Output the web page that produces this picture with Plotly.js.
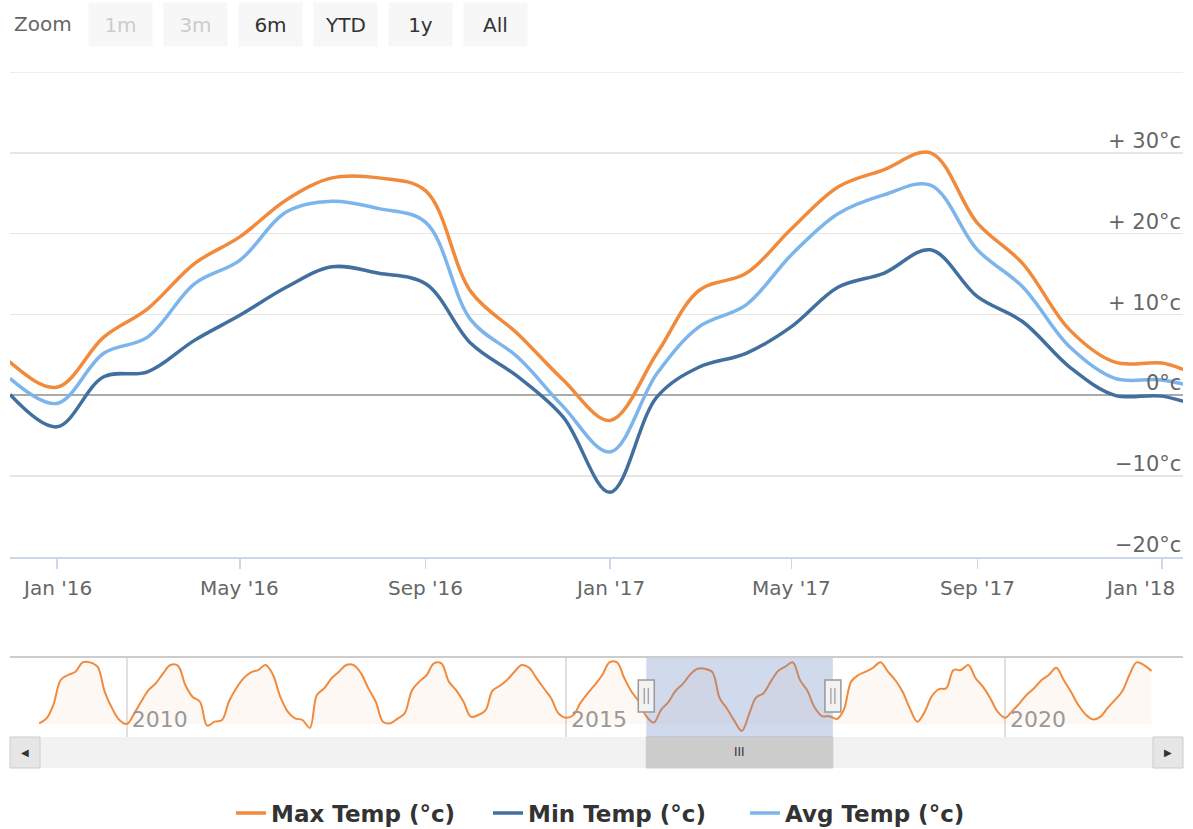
<!DOCTYPE html>
<html><head><meta charset="utf-8">
<script src="https://cdn.plot.ly/plotly-3.0.1.min.js"></script>
<style>html,body{margin:0;padding:0;background:#fff}#chart{width:1193px;height:829px}</style>
</head><body><div id="chart"></div>
<script>
// ---------------- data ----------------
const seriesStart = '2009-01';          // first month of the max-temp series (navigator)
const maxTemp = [
  0.6, 3.0, 9.4, 21.5, 23.9, 25.5, 30.0, 30.0, 27.9, 15.8, 7.8, 2.2,      // 2009
  0.3, 5.4, 11.0, 16.6, 19.9, 24.7, 28.7, 28.4, 19.1, 13.4, 11.0, -0.5,   // 2010
  1.4, 2.2, 11.0, 17.5, 22.3, 25.2, 26.3, 28.7, 23.9, 13.4, 6.2, 3.0,     // 2011
  2.2, -1.6, 14.2, 17.5, 22.3, 25.5, 28.7, 28.7, 24.7, 17.5, 11.0, 1.4,   // 2012
  0.6, 3.0, 5.4, 16.6, 20.7, 23.9, 29.5, 29.5, 20.7, 16.6, 11.0, 3.8,     // 2013
  4.6, 7.0, 16.2, 18.7, 21.5, 25.5, 28.7, 27.4, 22.3, 17.5, 12.6, 5.4,    // 2014
  3.3, 4.6, 10.2, 15.0, 19.1, 23.9, 30.0, 30.0, 22.3, 15.8, 11.0, 4.1,    // 2015
  1.0, 7.2, 10.7, 16.3, 19.6, 24.2, 26.9, 26.9, 25.3, 12.8, 7.6, 1.9,     // 2016
  -3.1, 5.2, 13.0, 15.1, 20.6, 25.8, 27.9, 30.0, 21.3, 16.3, 8.1, 4.1,    // 2017
  4.0, 2.7, 7.0, 20.7, 23.9, 25.5, 27.4, 30.0, 25.5, 21.5, 15.8, 7.8,     // 2018
  1.4, 6.2, 13.4, 17.1, 17.5, 26.3, 26.3, 28.7, 22.3, 18.3, 12.6, 6.2,    // 2019
  3.3, 6.6, 10.2, 14.5, 17.5, 21.5, 23.9, 27.4, 21.5, 15.8, 9.4, 4.9,     // 2020
  2.5, 3.8, 7.8, 11.8, 15.8, 23.9, 30.0, 28.7, 25.8                      // 2021
];
const detailStart = '2015-12';          // first month of min / avg series
const minTemp = [
  0.1,                                                                     // Dec 2015
  -3.9, 2.3, 2.9, 6.8, 9.9, 13.4, 15.9, 15.1, 13.8, 6.4, 2.3, -2.7,       // 2016
  -12.0, -0.2, 3.5, 5.2, 8.5, 13.4, 15.1, 18.0, 12.2, 9.1, 3.5, 0.0,      // 2017
  -0.1, -1.8                                                               // 2018
];
const avgTemp = [
  2.1,
  -1.0, 5.2, 7.2, 13.8, 16.7, 22.7, 24.0, 23.1, 21.4, 9.3, 4.7, -1.4,
  -7.0, 2.7, 8.5, 11.2, 17.4, 22.5, 24.8, 26.0, 18.0, 13.4, 6.0, 2.1,
  1.9, 0.6
];
const seriesNames = ['Max Temp (°c)', 'Min Temp (°c)', 'Avg Temp (°c)'];
const seriesColors = ['#f28a3c', '#41709f', '#7cb5ec'];
const zoomButtons = ['1m', '3m', '6m', 'YTD', '1y', 'All'];
const zoomEnabled = [false, false, true, true, true, true];
const yTickValues = [-20, -10, 0, 10, 20, 30];
const yTickLabels = ['\u221220°c', '\u221210°c', '0°c', '+ 10°c', '+ 20°c', '+ 30°c'];
const yTop = 40;
const xTickDates = ['2016-01-01', '2016-05-01', '2016-09-01', '2017-01-01', '2017-05-01', '2017-09-01', '2018-01-01'];
const xTickLabels = ["Jan '16", "May '16", "Sep '16", "Jan '17", "May '17", "Sep '17", "Jan '18"];
const viewRange = ['2015-12-01', '2018-01-15'];
const navRange = ['2008-09-02', '2022-01-10'];

// ---------------- helpers ----------------
function monthDates(start, n) {
  let [y, m] = start.split('-').map(Number);
  const out = [];
  for (let i = 0; i < n; i++) {
    out.push(y + '-' + String(m).padStart(2, '0') + '-01');
    m++; if (m > 12) { m = 1; y++; }
  }
  return out;
}
const maxDates = monthDates(seriesStart, maxTemp.length);
const detailDates = monthDates(detailStart, minTemp.length);

const W = 1193, H = 829, L = 10, R = 10, T = 72, B = 61;
const PW = W - L - R, PH = H - T - B;
const px = x => (x - L) / PW;
const py = y => (H - B - y) / PH;
const FONT = 'DejaVu Sans, Verdana, sans-serif';

// ---------------- traces ----------------
const traces = [
  {x: maxDates, y: maxTemp, name: seriesNames[0], type: 'scatter', mode: 'lines',
   line: {color: seriesColors[0], width: 3.5, shape: 'spline', smoothing: 1}, xaxis: 'x', yaxis: 'y'},
  {x: detailDates, y: minTemp, name: seriesNames[1], type: 'scatter', mode: 'lines',
   line: {color: seriesColors[1], width: 3.5, shape: 'spline', smoothing: 1}, xaxis: 'x', yaxis: 'y'},
  {x: detailDates, y: avgTemp, name: seriesNames[2], type: 'scatter', mode: 'lines',
   line: {color: seriesColors[2], width: 3.5, shape: 'spline', smoothing: 1}, xaxis: 'x', yaxis: 'y'},
  {x: maxDates, y: maxTemp, name: seriesNames[0], type: 'scatter', mode: 'lines', showlegend: false,
   line: {color: seriesColors[0], width: 2, shape: 'spline', smoothing: 1},
   fill: 'tozeroy', fillcolor: 'rgba(242,138,60,0.06)', xaxis: 'x2', yaxis: 'y2', hoverinfo: 'skip'}
];

// ---------------- annotations ----------------
const annotations = [];
yTickValues.forEach((v, i) => {
  annotations.push({xref: 'paper', x: 1, xanchor: 'right', yref: 'y', y: v, yanchor: 'bottom', yshift: -2,
    text: yTickLabels[i], showarrow: false, font: {family: FONT, size: 21, color: '#666666'}});
});
// x tick labels (last one justified inside the chart, like the original)
xTickDates.forEach((d, i) => {
  const last = i === xTickDates.length - 1;
  annotations.push({xref: 'x', x: d, xanchor: last ? 'right' : 'center', xshift: last ? 15 : 0,
    yref: 'paper', y: py(588), yanchor: 'middle', text: xTickLabels[i], showarrow: false,
    font: {family: FONT, size: 20, color: '#666666'}});
});
annotations.push({xref: 'paper', x: px(12), xanchor: 'left', yref: 'paper', y: py(24), yanchor: 'middle',
  text: 'Zoom', showarrow: false, font: {family: FONT, size: 20, color: '#666666'}});
zoomButtons.forEach((b, i) => {
  annotations.push({xref: 'paper', x: px(120.5 + 75 * i), xanchor: 'center', yref: 'paper', y: py(24.5),
    yanchor: 'middle', text: b, showarrow: false, width: 63, height: 43, borderpad: 0,
    bgcolor: '#f7f7f7', font: {family: FONT, size: 20, color: zoomEnabled[i] ? '#333333' : '#cccccc'}});
});
annotations.push({xref: 'paper', x: px(25), xanchor: 'center', yref: 'paper', y: py(752), yanchor: 'middle',
  text: '◀', showarrow: false, font: {family: FONT, size: 10, color: '#333333'}});
annotations.push({xref: 'paper', x: px(1168), xanchor: 'center', yref: 'paper', y: py(752), yanchor: 'middle',
  text: '▶', showarrow: false, font: {family: FONT, size: 10, color: '#333333'}});
const midView = new Date((Date.parse(viewRange[0]) + Date.parse(viewRange[1])) / 2).toISOString().slice(0, 10);
annotations.push({xref: 'x2', x: midView, xanchor: 'center', yref: 'paper', y: py(752), yanchor: 'middle',
  text: 'III', showarrow: false, font: {family: FONT, size: 12, color: '#333333'}});

// ---------------- shapes (top grid line, navigator + scrollbar UI) ----------------
const navTop = py(658), navBot = py(737), sbTop = py(737), sbBot = py(768);
const shapes = [
  {type: 'line', xref: 'paper', yref: 'y', x0: 0, x1: 1, y0: yTop, y1: yTop, line: {color: '#e6e6e6', width: 1.5}},
  {type: 'line', xref: 'paper', yref: 'paper', x0: 0, x1: 1, y0: py(657), y1: py(657), line: {color: '#cccccc', width: 2}},
  {type: 'rect', xref: 'paper', yref: 'paper', x0: 0, x1: 1, y0: sbBot, y1: sbTop, fillcolor: '#f2f2f2', line: {width: 0}},
  {type: 'rect', xref: 'paper', yref: 'paper', x0: px(10), x1: px(40), y0: sbBot, y1: sbTop, fillcolor: '#e6e6e6', line: {color: '#cccccc', width: 1}},
  {type: 'rect', xref: 'paper', yref: 'paper', x0: px(1153), x1: px(1183), y0: sbBot, y1: sbTop, fillcolor: '#e6e6e6', line: {color: '#cccccc', width: 1}},
  {type: 'rect', xref: 'x2', yref: 'paper', x0: viewRange[0], x1: viewRange[1], y0: sbBot, y1: sbTop, fillcolor: '#cccccc', line: {color: '#cccccc', width: 1}},
  {type: 'rect', xref: 'x2', yref: 'paper', x0: viewRange[0], x1: viewRange[1], y0: navBot, y1: navTop,
   fillcolor: 'rgba(102,133,194,0.3)', line: {width: 0}, layer: 'above'}
];
viewRange.forEach(d => {
  shapes.push({type: 'rect', xref: 'x2', xsizemode: 'pixel', xanchor: d, x0: -8, x1: 8,
    yref: 'paper', y0: py(712), y1: py(680), fillcolor: '#f2f2f2', line: {color: '#999999', width: 1.5}, layer: 'above'});
  [-2, 2].forEach(o => shapes.push({type: 'line', xref: 'x2', xsizemode: 'pixel', xanchor: d, x0: o, x1: o,
    yref: 'paper', y0: py(704), y1: py(688), line: {color: '#999999', width: 1.2}, layer: 'above'}));
});

// ---------------- layout ----------------
const layout = {
  width: W, height: H,
  margin: {l: L, r: R, t: T, b: B, autoexpand: false},
  paper_bgcolor: '#ffffff', plot_bgcolor: 'rgba(0,0,0,0)',
  font: {family: FONT, color: '#666666'},
  showlegend: true,
  legend: {orientation: 'h', x: px(616.5), xanchor: 'center', xref: 'paper', y: py(813), yanchor: 'middle',
    font: {family: FONT, size: 23, color: '#333333', weight: 'bold'}, itemwidth: 30, entrywidth: 212,
    bgcolor: 'rgba(0,0,0,0)'},
  xaxis: {type: 'date', domain: [0, 1], anchor: 'y', range: viewRange, tickmode: 'array', tickvals: xTickDates,
    showticklabels: false, ticks: 'outside', ticklen: 10, tickwidth: 1.5, tickcolor: '#ccd6eb',
    showline: true, linecolor: '#ccd6eb', linewidth: 2, showgrid: false, zeroline: false, fixedrange: true},
  yaxis: {domain: [py(557), py(72)], anchor: 'x', range: [-20, yTop], dtick: 10, tick0: 0,
    showticklabels: false, ticks: '', gridcolor: '#e6e6e6', gridwidth: 1.5,
    zeroline: true, zerolinecolor: '#aaaaaa', zerolinewidth: 2, showline: false, fixedrange: true},
  xaxis2: {type: 'date', domain: [0, 1], anchor: 'y2', range: navRange, dtick: 'M60', tick0: '2010-01-01',
    tickformat: '%Y', ticks: '', ticklabelposition: 'inside right', ticklabelshift: 5,
    showgrid: true, gridcolor: '#e0e0e0', gridwidth: 1.5,
    showline: false, zeroline: false, tickfont: {family: FONT, size: 22, color: '#999999'}, fixedrange: true},
  yaxis2: {domain: [navBot, navTop], anchor: 'x2', range: [-6.0, 32.1], visible: false, showgrid: false,
    zeroline: false, fixedrange: true},
  annotations: annotations,
  shapes: shapes,
  hovermode: false
};

Plotly.newPlot('chart', traces, layout, {displayModeBar: false, staticPlot: true});
</script>
</body></html>
